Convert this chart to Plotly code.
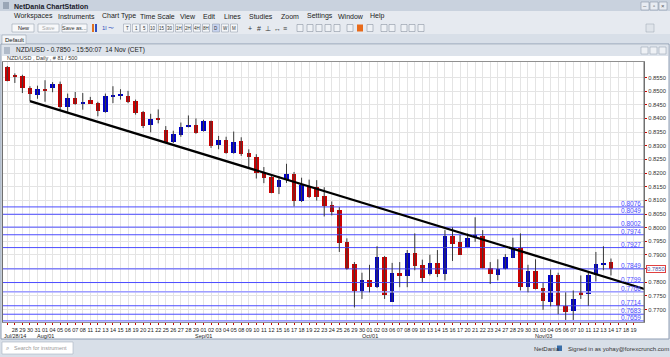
import plotly.graph_objects as go

# ---------------- data ----------------
dates = ["Jul 25", "Jul 28", "Jul 29", "Jul 30", "Jul 31", "Aug 01", "Aug 04", "Aug 05", "Aug 06", "Aug 07",
         "Aug 08", "Aug 11", "Aug 12", "Aug 13", "Aug 14", "Aug 15", "Aug 18", "Aug 19", "Aug 20", "Aug 21",
         "Aug 22", "Aug 25", "Aug 26", "Aug 27", "Aug 28", "Aug 29", "Sep 01", "Sep 02", "Sep 03", "Sep 04",
         "Sep 05", "Sep 08", "Sep 09", "Sep 10", "Sep 11", "Sep 12", "Sep 15", "Sep 16", "Sep 17", "Sep 18",
         "Sep 19", "Sep 22", "Sep 23", "Sep 24", "Sep 25", "Sep 26", "Sep 29", "Sep 30", "Oct 01", "Oct 02",
         "Oct 03", "Oct 06", "Oct 07", "Oct 08", "Oct 09", "Oct 10", "Oct 13", "Oct 14", "Oct 15", "Oct 16",
         "Oct 17", "Oct 20", "Oct 21", "Oct 22", "Oct 23", "Oct 24", "Oct 27", "Oct 28", "Oct 29", "Oct 30",
         "Oct 31", "Nov 03", "Nov 04", "Nov 05", "Nov 06", "Nov 07", "Nov 10", "Nov 11", "Nov 12", "Nov 13",
         "Nov 14"]
opens = [0.8587, 0.8557, 0.8555, 0.8513, 0.8487, 0.8507, 0.8511, 0.8525, 0.8442, 0.8475,
         0.8455, 0.8466, 0.8456, 0.8424, 0.8481, 0.8484, 0.8483, 0.8463, 0.8423, 0.8375,
         0.8400, 0.8358, 0.8315, 0.8340, 0.8368, 0.8377, 0.8353, 0.8391, 0.8301, 0.8322,
         0.8274, 0.8319, 0.8273, 0.8259, 0.8199, 0.8186, 0.8148, 0.8176, 0.8195, 0.8096,
         0.8154, 0.8148, 0.8115, 0.8082, 0.8063, 0.7948, 0.7868, 0.7766, 0.7810, 0.7782,
         0.7893, 0.7729, 0.7835, 0.7823, 0.7908, 0.7864, 0.7831, 0.7871, 0.7831, 0.7971,
         0.7948, 0.7930, 0.7966, 0.7971, 0.7853, 0.7827, 0.7850, 0.7890, 0.7926, 0.7782,
         0.7841, 0.7778, 0.7729, 0.7825, 0.7714, 0.7694, 0.7763, 0.7757, 0.7825, 0.7864,
         0.7874]
highs = [0.8592, 0.8565, 0.8560, 0.8518, 0.8520, 0.8540, 0.8533, 0.8535, 0.8491, 0.8497,
         0.8493, 0.8479, 0.8461, 0.8491, 0.8518, 0.8507, 0.8501, 0.8469, 0.8427, 0.8417,
         0.8433, 0.8372, 0.8355, 0.8385, 0.8411, 0.8400, 0.8395, 0.8392, 0.8336, 0.8333,
         0.8352, 0.8331, 0.8287, 0.8269, 0.8222, 0.8189, 0.8189, 0.8234, 0.8204, 0.8183,
         0.8176, 0.8174, 0.8148, 0.8096, 0.8075, 0.7961, 0.7874, 0.7835, 0.7864, 0.7932,
         0.7896, 0.7871, 0.7874, 0.7918, 0.7979, 0.7883, 0.7901, 0.7918, 0.7991, 0.8001,
         0.7973, 0.7979, 0.8038, 0.7991, 0.7874, 0.7884, 0.7903, 0.7963, 0.7979, 0.7864,
         0.7884, 0.7798, 0.7847, 0.7835, 0.7763, 0.7770, 0.7825, 0.7837, 0.7911, 0.7932,
         0.7887]
lows = [0.8536, 0.8530, 0.8493, 0.8464, 0.8472, 0.8461, 0.8496, 0.8432, 0.8423, 0.8450,
        0.8432, 0.8453, 0.8408, 0.8421, 0.8456, 0.8469, 0.8456, 0.8414, 0.8365, 0.8349,
        0.8382, 0.8311, 0.8310, 0.8333, 0.8367, 0.8344, 0.8352, 0.8292, 0.8287, 0.8271,
        0.8271, 0.8263, 0.8222, 0.8180, 0.8163, 0.8126, 0.8123, 0.8164, 0.8078, 0.8094,
        0.8109, 0.8099, 0.8041, 0.8045, 0.7911, 0.7846, 0.7708, 0.7739, 0.7763, 0.7779,
        0.7739, 0.7728, 0.7782, 0.7782, 0.7844, 0.7800, 0.7825, 0.7819, 0.7807, 0.7878,
        0.7900, 0.7929, 0.7948, 0.7851, 0.7794, 0.7807, 0.7847, 0.7889, 0.7770, 0.7763,
        0.7774, 0.7699, 0.7712, 0.7683, 0.7662, 0.7662, 0.7739, 0.7714, 0.7803, 0.7844,
        0.7825]
closes = [0.8538, 0.8553, 0.8512, 0.8490, 0.8507, 0.8503, 0.8525, 0.8442, 0.8475, 0.8454,
          0.8459, 0.8454, 0.8426, 0.8481, 0.8486, 0.8485, 0.8460, 0.8419, 0.8374, 0.8398,
          0.8395, 0.8313, 0.8343, 0.8370, 0.8377, 0.8345, 0.8390, 0.8300, 0.8322, 0.8275,
          0.8315, 0.8269, 0.8257, 0.8199, 0.8183, 0.8127, 0.8176, 0.8195, 0.8096, 0.8155,
          0.8111, 0.8111, 0.8078, 0.8059, 0.7945, 0.7847, 0.7766, 0.7810, 0.7782, 0.7893,
          0.7754, 0.7835, 0.7823, 0.7908, 0.7860, 0.7816, 0.7871, 0.7829, 0.7971, 0.7942,
          0.7901, 0.7963, 0.7973, 0.7852, 0.7829, 0.7850, 0.7893, 0.7926, 0.7782, 0.7841,
          0.7776, 0.7731, 0.7825, 0.7714, 0.7692, 0.7739, 0.7755, 0.7825, 0.7866, 0.7871,
          0.7850]

tick_labels = ["", "28", "29", "30", "31", "01", "04", "05", "06", "07", "08", "11", "12", "13", "14", "15",
               "18", "19", "20", "21", "22", "25", "26", "27", "28", "29", "01", "02", "03", "04", "05",
               "08", "09", "10", "11", "12", "15", "16", "17", "18", "19", "22", "23", "24", "25", "26",
               "29", "30", "01", "02", "03", "06", "07", "08", "09", "10", "13", "14", "15", "16", "17",
               "20", "21", "22", "23", "24", "27", "28", "29", "30", "31", "03", "04", "05", "06", "07",
               "10", "11", "12", "13", "14", "17", "18", "19"]
month_labels = ["Jul/28/14", "Aug/01", "Sep/01", "Oct/01", "Nov/03"]
month_slots = [1, 5, 26, 48, 71]

price_ticks = [0.7650, 0.7700, 0.7750, 0.7800, 0.7850, 0.7900, 0.7950, 0.8000, 0.8050, 0.8100,
               0.8150, 0.8200, 0.8250, 0.8300, 0.8350, 0.8400, 0.8450, 0.8500, 0.8550]
levels = [0.8076, 0.8049, 0.8002, 0.7974, 0.7927, 0.7849, 0.7799, 0.7766, 0.7714, 0.7683, 0.7659]
pale_levels = [0.7766, 0.7659]
trend_x = [3.0, 84.6]
trend_y = [0.84635, 0.77740]
last_price = 0.7850

# ---------------- geometry ----------------
W, H = 670, 357
L, R, T, B = 3, 644, 62, 322
slot_px = 7.546
x0 = -(7.3 - L) / slot_px
x1 = x0 + (R - L) / slot_px
y_lo, y_hi = 0.76545, 0.86067


def PX(x):
    return (x - L) / (R - L)


def PY(y):
    return (B - y) / (B - T)


FONT = "Liberation Sans, Arial, sans-serif"
RED = "#cc0000"
BLUE = "#0000c8"
LEVEL = "#4b4bff"

n = len(closes)
slots = list(range(n))

fig = go.Figure()

# horizontal level lines
lx, ly = [], []
for v in levels:
    lx += [x0, x1, None]
    ly += [v, v, None]
fig.add_trace(go.Scatter(x=lx, y=ly, mode="lines", line=dict(color=LEVEL, width=1),
                         hoverinfo="skip", showlegend=False))
px_, py_ = [], []
for v in pale_levels:
    px_ += [x0, x1, None]
    py_ += [v - 0.0002, v - 0.0002, None]
fig.add_trace(go.Scatter(x=px_, y=py_, mode="lines", line=dict(color="#b8b8ff", width=1.5),
                         hoverinfo="skip", showlegend=False))

# wicks
wx, wy = [], []
for i in range(n):
    wx += [i, i, None]
    wy += [lows[i], highs[i], None]
fig.add_trace(go.Scatter(x=wx, y=wy, mode="lines", line=dict(color="#3a3a3a", width=1),
                         hoverinfo="skip", showlegend=False))

# bodies
base = [min(o, c) for o, c in zip(opens, closes)]
height = [max(abs(c - o), 0.00045) for o, c in zip(opens, closes)]
cols = [BLUE if c > o else RED for o, c in zip(opens, closes)]
fig.add_trace(go.Bar(x=slots, y=height, base=base, width=0.6,
                     marker=dict(color=cols, line=dict(width=0)),
                     hoverinfo="skip", showlegend=False))

# trend line
fig.add_trace(go.Scatter(x=trend_x, y=trend_y, mode="lines", line=dict(color="#000000", width=2.3),
                         hoverinfo="skip", showlegend=False))

shapes = []
ann = []


def rect(xa, ya, xb, yb, fill, line=None, lw=0.8, layer="below"):
    shapes.append(dict(type="rect", xref="paper", yref="paper", x0=PX(xa), x1=PX(xb), y0=PY(yb), y1=PY(ya),
                       fillcolor=fill, line=dict(color=line or fill, width=lw if line else 0), layer=layer))


def text(x, y, s, size=7, color="#1a1a1a", anchor="left", bold=False):
    ann.append(dict(xref="paper", yref="paper", x=PX(x), y=PY(y), text=("<b>%s</b>" % s) if bold else s,
                    showarrow=False, xanchor=anchor, yanchor="middle",
                    font=dict(family=FONT, size=size, color=color)))


# ---------------- application chrome ----------------
rect(0, 0, 670, 11, "#c9d2de")
rect(0, 11, 670, 22, "#e6eaf0")
rect(0, 22, 670, 34, "#e6eaf0")
rect(0, 34, 670, 44, "#d8dfe8")
rect(0, 339, 670, 357, "#d8dfe8")
rect(1, 44, 669, 339, "#ffffff", line="#8e9db2", lw=1)
rect(2, 45, 668, 56, "#dde3eb")

# title bar
rect(3, 2, 9, 9, "#9aa6b6")
text(12, 6, "NetDania ChartStation", size=7, color="#1a1a2a", bold=True)
for bx, sym in [(641, "–"), (650, "▫"), (659, "×")]:
    rect(bx, 2, bx + 8, 10, "#e8ecf2", line="#8c98a8", lw=0.6)
    text(bx + 4, 6, sym, size=6, color="#555", anchor="center")

# menu
menu = [("Workspaces", 12), ("Instruments", 56), ("Chart Type", 100), ("Time Scale", 138), ("View", 178),
        ("Edit", 201), ("Lines", 222), ("Studies", 247), ("Zoom", 279), ("Settings", 305),
        ("Window", 336), ("Help", 368)]
for s, x in menu:
    text(x, 16.5, s, size=7, color="#222")

# toolbar
for s, xa, xb, c in [("New", 12, 34, "#222"), ("Save", 38, 59, "#aaa"), ("Save as...", 62, 87, "#333")]:
    rect(xa, 24, xb, 32, "#f7f8fa", line="#9aa4b2", lw=0.6)
    text((xa + xb) / 2, 28, s, size=5.5, color=c, anchor="center")
rect(92, 24, 94, 32, "#e07020")
rect(95, 24, 97, 32, "#3050c0")
text(100, 28, "1l", size=6, color="#3050c0")
text(106, 28, "〜", size=6, color="#3050c0")
for s, x in [("T", 127), ("1", 136), ("5", 144), ("10", 153), ("15", 162), ("30", 170), ("1H", 179),
             ("2H", 188), ("4H", 197), ("8H", 206), ("D", 216), ("W", 225), ("M", 234)]:
    rect(x - 3.5, 24, x + 3.5, 32, "#c8d4f0" if s == "D" else "#f4f6f9", line="#8a94a4", lw=0.5)
    text(x, 28, s, size=4.5, color="#333", anchor="center")
for s, x in [("+", 250), ("#", 259), ("⊥", 268), ("↔", 277), ("≡", 285)]:
    text(x, 28, s, size=7, color="#333", anchor="center")
for x in [300, 310, 319, 328, 337, 350, 370, 384, 392, 404, 412, 421]:
    rect(x - 3, 24.5, x + 3, 31.5, "#eef1f5", line="#7a8494", lw=0.5)
rect(357, 24.5, 363, 31.5, "#e86a1a")
rect(646, 24, 654, 32, "#dfe4ea", line="#9aa4b2", lw=0.5)

# Default tab
rect(2, 35, 26, 44, "#f3f5f8", line="#9aa4b2", lw=0.6)
text(14, 39.5, "Default", size=6, color="#222", anchor="center")

# chart window title
rect(4, 47, 10, 54, "#b0bac8")
text(14, 50.5, "NZD/USD - 0.7850 - 15:50:07  14 Nov (CET)", size=6.5, color="#222")
for bx in [641, 650, 659]:
    rect(bx, 47, bx + 7, 54, "#eef1f5", line="#8c98a8", lw=0.5)
text(5, 58.3, "NZD/USD , Daily , # 81 / 500", size=5.5, color="#333")

# status bar
rect(2, 342, 73, 354, "#ffffff", line="#a8b2c0", lw=0.6)
text(4, 348, "⌕", size=6, color="#666")
text(12, 348, "Search for instrument", size=5.5, color="#999")
text(532, 348.5, "NetDania", size=6, color="#333")
rect(557, 345.5, 562, 351, "#3a6ea8")
text(566, 348.5, "Signed in as yohay@forexcrunch.com", size=6, color="#333")

# right panel separator
shapes.append(dict(type="line", xref="paper", yref="paper", x0=1, x1=1, y0=0, y1=1,
                   line=dict(color="#707070", width=1), layer="above"))

# level labels
for v in levels:
    ann.append(dict(xref="paper", yref="y", x=1, y=v, text="%.4f" % v, showarrow=False,
                    xanchor="right", yanchor="bottom", xshift=-1, yshift=-2,
                    font=dict(family=FONT, size=6.5, color=LEVEL)))

# current price box (replaces the axis label at the same value)
ann.append(dict(xref="paper", yref="y", x=1, y=last_price, text="%.4f" % last_price, showarrow=False,
                xanchor="left", yanchor="middle", xshift=2,
                bordercolor="#e04040", borderwidth=1, borderpad=0, bgcolor="#ffffff",
                font=dict(family=FONT, size=5.8, color="#5050a0")))

# month labels
for s, m in zip(month_slots, month_labels):
    ann.append(dict(xref="x", yref="paper", x=s, y=0, text=m, showarrow=False,
                    xanchor="center", yanchor="top", yshift=-9,
                    font=dict(family=FONT, size=5.5, color="#222")))

y_text = ["" if abs(v - last_price) < 1e-9 else "%.4f" % v for v in price_ticks]

fig.update_layout(
    width=W, height=H,
    margin=dict(l=L, r=W - R, t=T, b=H - B, autoexpand=False),
    paper_bgcolor="#d8dfe8", plot_bgcolor="#ffffff",
    showlegend=False, bargap=0,
    shapes=shapes, annotations=ann,
    xaxis=dict(range=[x0, x1], tickmode="array", tickvals=list(range(len(tick_labels))),
               ticktext=tick_labels, tickangle=0,
               tickfont=dict(family=FONT, size=5.5, color="#222"),
               ticks="outside", ticklen=2, tickcolor=RED,
               showgrid=True, gridcolor="#e4e4e4", gridwidth=1,
               showline=True, linecolor="#909090", mirror=True, zeroline=False, fixedrange=True),
    yaxis=dict(range=[y_lo, y_hi], side="right", tickmode="array", tickvals=price_ticks,
               ticktext=y_text, ticklabelstandoff=0,
               tickfont=dict(family=FONT, size=5.8, color="#333"),
               ticks="outside", ticklen=2, tickcolor=RED,
               showgrid=True, gridcolor="#e4e4e4", gridwidth=1,
               showline=True, linecolor="#707070", mirror=True, zeroline=False, fixedrange=True),
)

fig.write_html("out.html", config={"displayModeBar": False},
               post_script="document.body.style.margin='0';document.body.style.padding='0';")
